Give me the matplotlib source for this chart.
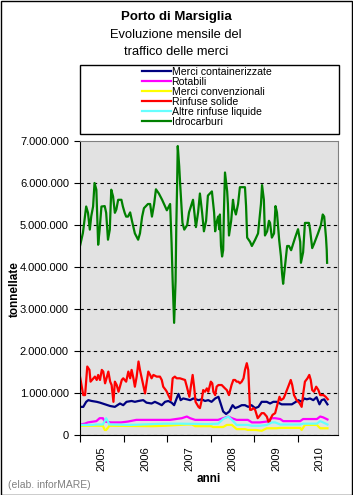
import matplotlib
matplotlib.use("Agg")
import matplotlib.pyplot as plt
from matplotlib.patches import Rectangle

plt.rcParams['font.family'] = ['Liberation Sans', 'DejaVu Sans']

# mesi dal gennaio 2005 (posizione), valori in milioni di tonnellate
mesi_idro = [0, 0.8, 1.7, 2.2, 2.7, 3.1, 3.6, 4.0, 4.5, 5.0, 5.4, 5.9, 6.8, 7.2, 7.7, 8.2, 8.6, 9.1,
             9.6, 10.0, 10.5, 11.4, 11.8, 12.3, 12.7, 13.2, 13.8, 14.3, 15.1, 16.0, 16.5, 17.1, 17.6,
             18.7, 19.3, 19.8, 20.4, 20.9, 21.7, 22.6, 23.9, 24.5, 24.8, 25.2, 25.5, 25.9, 26.3, 26.5,
             26.7, 26.9, 27.3, 27.6, 28.2, 28.7, 29.5, 30.0, 31.1, 31.4, 31.9, 32.5, 33.0, 33.6, 34.1,
             34.7, 35.2, 36.3, 36.9, 37.2, 37.4, 38.0, 38.3, 38.5, 38.8, 39.1, 39.4, 39.6, 39.9, 40.5,
             40.7, 41.0, 41.6, 42.1, 42.4, 42.9, 43.5, 44.0, 45.4, 45.7, 46.0, 46.8, 47.3, 48.2, 49.0,
             49.8, 50.1, 50.6, 50.9, 51.5, 52.0, 52.3, 52.8, 53.4, 53.8, 54.2, 54.8, 55.3, 55.6, 55.9,
             56.4, 57.0, 57.5, 58.1, 59.2, 60.0, 60.6, 60.8, 61.4, 61.9, 63.0, 63.3, 63.9, 64.4, 65.5,
             66.3, 66.8, 67.2, 67.7, 67.9, 68.0]
idrocarburi = [4.50, 4.81, 5.44, 5.29, 4.89, 5.21, 5.44, 6.00, 5.84, 4.53, 4.89, 5.44, 5.45, 5.29, 4.65,
               4.89, 5.84, 5.68, 5.29, 5.37, 5.60, 5.60, 5.44, 5.29, 5.20, 5.20, 5.30, 5.10, 4.80, 4.65,
               4.80, 5.20, 5.40, 5.50, 5.50, 5.20, 5.50, 5.85, 5.75, 5.60, 5.35, 5.45, 5.50, 4.57, 3.66,
               2.67, 3.66, 4.97, 5.84, 6.88, 6.40, 5.92, 5.05, 4.89, 5.00, 5.30, 5.60, 5.35, 4.95, 5.30,
               5.75, 5.30, 4.85, 5.10, 5.70, 5.80, 5.30, 4.85, 5.00, 5.20, 4.90, 5.25, 4.50, 4.25, 4.40,
               5.30, 6.25, 5.80, 5.50, 4.75, 5.10, 5.60, 5.40, 5.25, 5.50, 5.90, 5.90, 5.45, 4.70, 4.60,
               4.50, 4.65, 4.80, 5.50, 5.95, 5.60, 4.75, 4.85, 5.10, 5.05, 4.70, 4.80, 5.45, 5.30, 4.65,
               4.25, 3.85, 3.60, 4.00, 4.50, 4.50, 4.40, 4.70, 4.90, 4.60, 4.10, 4.35, 5.05, 5.05, 4.90,
               4.45, 4.55, 4.80, 5.00, 5.25, 5.20, 4.70, 4.40, 4.10]

mesi_solide = [0, 0.9, 1.4, 2.0, 2.6, 2.9, 3.7, 4.1, 4.6, 5.0, 5.5, 6.0, 6.4, 6.9, 7.3, 7.8, 8.3, 8.7,
               9.2, 9.6, 10.1, 10.6, 11.5, 11.9, 12.7, 13.3, 13.8, 14.2, 14.7, 15.1, 15.6, 16.1, 16.5,
               17.0, 17.4, 17.9, 18.3, 18.8, 19.3, 19.7, 20.2, 21.1, 22.0, 22.5, 22.9, 23.6, 23.9, 24.3,
               25.0, 25.5, 26.1, 26.6, 27.5, 28.9, 29.4, 30.1, 30.5, 31.0, 31.4, 31.8, 32.6, 33.0, 33.5,
               33.9, 34.4, 34.9, 35.3, 36.0, 36.4, 36.7, 37.2, 37.6, 38.1, 39.0, 39.9, 40.4, 41.0, 41.7,
               42.2, 42.7, 43.1, 43.6, 44.0, 44.5, 45.0, 45.4, 45.9, 46.3, 46.8, 47.2, 47.7, 48.2, 48.9,
               49.3, 50.0, 50.6, 51.4, 52.0, 52.5, 53.0, 53.7, 54.3, 54.9, 55.3, 56.0, 56.4, 57.3, 58.0,
               58.4, 58.9, 59.6, 60.4, 61.0, 61.5, 61.9, 62.6, 63.1, 63.5, 63.9, 64.4, 65.0, 65.6, 66.1,
               67.0, 67.6, 68.2]
rinfuse_solide = [1.39, 0.95, 0.95, 1.63, 1.55, 1.27, 1.35, 1.39, 1.31, 1.43, 1.31, 1.55, 1.51, 1.23,
                  1.35, 1.51, 1.27, 1.19, 0.79, 1.27, 1.19, 1.03, 1.31, 1.35, 1.27, 1.51, 1.35, 1.55,
                  1.35, 1.15, 1.39, 1.75, 1.55, 1.35, 1.19, 0.99, 1.23, 1.51, 1.43, 1.35, 1.43, 1.39,
                  1.39, 1.31, 1.15, 1.07, 1.03, 0.95, 0.83, 1.35, 1.39, 1.35, 1.35, 1.31, 1.15, 0.91,
                  1.15, 1.43, 1.15, 0.79, 0.67, 0.64, 0.83, 1.07, 1.03, 1.11, 1.03, 1.27, 1.23, 1.03,
                  0.95, 1.15, 1.19, 1.19, 1.11, 1.07, 0.95, 1.19, 1.31, 1.31, 1.27, 1.27, 1.23, 1.27,
                  1.35, 1.55, 1.71, 1.55, 0.60, 0.60, 0.64, 0.60, 0.40, 0.44, 0.52, 0.52, 0.44, 0.28,
                  0.40, 0.48, 0.52, 0.72, 0.91, 0.83, 0.87, 0.95, 1.15, 1.31, 1.19, 0.95, 0.83, 0.76,
                  0.67, 1.03, 1.27, 1.35, 1.43, 1.31, 1.07, 1.03, 1.15, 1.07, 0.95, 0.95, 0.91, 0.85]

mesi_cont = [0, 0.9, 1.7, 2.3, 3.2, 4.6, 5.5, 6.9, 8.3, 9.6, 10.3, 11.0, 11.9, 12.8, 14.2, 15.1, 16.1,
             17.4, 18.3, 19.7, 20.6, 21.6, 22.5, 23.4, 24.3, 25.2, 25.9, 26.6, 27.1, 27.7, 28.4, 29.4,
             30.3, 31.2, 32.6, 33.5, 34.4, 35.3, 36.2, 37.2, 38.1, 38.7, 39.4, 40.2, 41.1, 42.0, 42.7,
             43.6, 44.5, 45.4, 46.3, 47.2, 48.2, 49.1, 50.0, 51.4, 52.3, 53.2, 54.1, 55.5, 56.9, 58.3,
             59.4, 60.1, 61.0, 61.7, 62.4, 63.3, 64.2, 65.1, 65.9, 66.5, 67.2, 68.1]
containerizzate = [0.67, 0.67, 0.79, 0.83, 0.81, 0.79, 0.77, 0.73, 0.69, 0.67, 0.71, 0.75, 0.71, 0.79,
                   0.81, 0.79, 0.81, 0.83, 0.77, 0.75, 0.79, 0.75, 0.71, 0.79, 0.81, 0.77, 0.71, 0.87,
                   0.98, 0.83, 0.87, 0.85, 0.83, 0.87, 0.83, 0.85, 0.81, 0.83, 0.79, 0.87, 0.91, 0.75,
                   0.56, 0.50, 0.56, 0.71, 0.64, 0.67, 0.71, 0.71, 0.67, 0.71, 0.64, 0.67, 0.79, 0.79,
                   0.75, 0.79, 0.79, 0.73, 0.73, 0.73, 0.79, 0.83, 0.79, 0.87, 0.85, 0.87, 0.83, 0.90,
                   0.73, 0.83, 0.85, 0.73]

mesi_rot = [0, 1.3, 2.2, 4.5, 5.4, 6.3, 6.8, 8.5, 11.3, 13.2, 15.5, 24.8, 28.0, 29.4, 30.3, 31.7, 38.0,
            39.4, 40.8, 41.8, 43.1, 46.2, 47.3, 49.5, 51.4, 52.8, 53.7, 55.1, 55.9, 60.6, 61.4, 65.2,
            66.1, 66.9, 68.1]
rotabili = [0.25, 0.27, 0.30, 0.33, 0.40, 0.40, 0.32, 0.30, 0.30, 0.32, 0.36, 0.36, 0.40, 0.44, 0.40,
            0.36, 0.36, 0.40, 0.44, 0.40, 0.36, 0.36, 0.30, 0.30, 0.32, 0.40, 0.40, 0.38, 0.33, 0.33,
            0.38, 0.38, 0.44, 0.42, 0.37]

mesi_conv = [0, 6.3, 6.8, 7.2, 8.1, 20.0, 23.4, 29.4, 30.8, 31.7, 36.1, 36.6, 39.4, 40.4, 41.8, 43.1,
             45.4, 46.2, 48.4, 50.0, 51.4, 54.1, 55.1, 60.6, 61.0, 61.9, 65.2, 66.1, 68.1]
convenzionali = [0.22, 0.22, 0.12, 0.12, 0.22, 0.21, 0.22, 0.25, 0.25, 0.21, 0.21, 0.19, 0.19, 0.24,
                 0.24, 0.14, 0.14, 0.12, 0.12, 0.10, 0.16, 0.16, 0.17, 0.17, 0.12, 0.24, 0.24, 0.16, 0.16]

mesi_liq = [0, 3.6, 4.4, 6.3, 7.2, 8.1, 14.0, 20.0, 23.4, 27.5, 35.0, 38.0, 39.4, 40.8, 41.8, 43.1,
            46.2, 47.3, 49.5, 51.4, 52.8, 53.7, 55.1, 60.6, 61.4, 65.2, 66.1, 66.9, 68.1]
altre_liquide = [0.24, 0.24, 0.25, 0.25, 0.40, 0.25, 0.24, 0.26, 0.27, 0.27, 0.26, 0.27, 0.38, 0.44,
                 0.36, 0.24, 0.24, 0.22, 0.22, 0.24, 0.30, 0.30, 0.25, 0.25, 0.27, 0.27, 0.33, 0.30, 0.25]

anni = ['2005', '2006', '2007', '2008', '2009', '2010']

W, H = 353, 495
fig = plt.figure(figsize=(W / 100, H / 100), dpi=100)
fig.patches.append(Rectangle((0.5 / W, 0.5 / H), (W - 1.5) / W, (H - 1.5) / H, transform=fig.transFigure,
                             fill=False, edgecolor='black', linewidth=1))

ax = fig.add_axes([80 / W, 1 - 435 / H, 258 / W, 294 / H])
ax.set_facecolor('#e2e2e2')

serie = [
    (mesi_cont, containerizzate, '#000080', 'Merci containerizzate'),
    (mesi_rot, rotabili, '#ff00ff', 'Rotabili'),
    (mesi_conv, convenzionali, '#ffff00', 'Merci convenzionali'),
    (mesi_solide, rinfuse_solide, '#ff0000', 'Rinfuse solide'),
    (mesi_liq, altre_liquide, '#66ffff', 'Altre rinfuse liquide'),
    (mesi_idro, idrocarburi, '#008000', 'Idrocarburi'),
]
handles = []
for x, y, col, lab in serie:
    h, = ax.plot(x, [v * 1e6 for v in y], color=col, linewidth=1.6, label=lab)
    handles.append(h)

ax.set_xlim(0, 71)
ax.set_ylim(0, 7e6)
yt = [i * 1e6 for i in range(8)]
ax.set_yticks(yt)
ax.set_yticklabels([f"{int(v):,}".replace(',', '.') for v in yt], fontsize=8)
ax.tick_params(axis='y', length=4, width=0.8, pad=4)
ax.set_xticks(range(0, 61, 12))
ax.set_xticklabels([])
ax.tick_params(axis='x', which='major', length=5, width=0.8)
ax.set_xticks([m + 6 for m in range(0, 61, 12)], minor=True)
ax.set_xticklabels(anni, minor=True, rotation=90, fontsize=8)
ax.tick_params(axis='x', which='minor', length=0, pad=8)

ax.set_axisbelow(True)
ax.grid(axis='y', color='black', linestyle=(0, (3, 3)), linewidth=0.8)
for g in ax.get_ygridlines()[-1:]:
    g.set_visible(False)
for s in ['top', 'right']:
    ax.spines[s].set_color('#808080')
for s in ['left', 'bottom']:
    ax.spines[s].set_color('black')

fig.text(15 / W, 1 - 289 / H, 'tonnellate', rotation=90, ha='center', va='center',
         fontsize=8.5, fontweight='bold')
fig.text(209 / W, 1 - 479 / H, 'anni', ha='center', va='center', fontsize=8.5, fontweight='bold')
fig.text(8 / W, 1 - 485 / H, '(elab. inforMARE)', ha='left', va='center', fontsize=7.5, color='#808080')

fig.text(176 / W, 1 - 17 / H, 'Porto di Marsiglia', ha='center', va='center', fontsize=9.5,
         fontweight='bold')
fig.text(176 / W, 1 - 35 / H, 'Evoluzione mensile del', ha='center', va='center', fontsize=9.3)
fig.text(176 / W, 1 - 52 / H, 'traffico delle merci', ha='center', va='center', fontsize=9.3)

fig.patches.append(Rectangle((80 / W, 1 - 134 / H), 259 / W, 69 / H, transform=fig.transFigure,
                             facecolor='white', edgecolor='black', linewidth=1))
fig.legend(handles=handles, loc='upper left', bbox_to_anchor=(142 / W, 1 - 67 / H), frameon=False,
           fontsize=7.6, handlelength=2.7, handletextpad=0.1, labelspacing=0.0, borderpad=0,
           borderaxespad=0)

fig.savefig('out.png', dpi=100)
